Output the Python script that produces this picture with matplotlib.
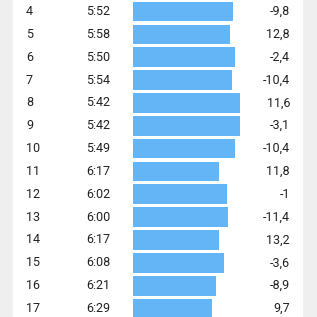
import matplotlib
matplotlib.use("Agg")
import matplotlib.pyplot as plt
import numpy as np

plt.rcParams['font.family'] = ['Roboto', 'DejaVu Sans']

# km splits
km = [4, 5, 6, 7, 8, 9, 10, 11, 12, 13, 14, 15, 16, 17]
pace = ["5:52", "5:58", "5:50", "5:54", "5:42", "5:42", "5:49",
        "6:17", "6:02", "6:00", "6:17", "6:08", "6:21", "6:29"]
elev = [-9.8, 12.8, -2.4, -10.4, 11.6, -3.1, -10.4,
        11.8, -1, -11.4, 13.2, -3.6, -8.9, 9.7]

secs = np.array([int(p.split(":")[0]) * 60 + int(p.split(":")[1]) for p in pace])
speed = 3600.0 / secs  # km/h

W = 317
fig = plt.figure(figsize=(W / 100, W / 100), dpi=100, facecolor="#efefef")

ylim = (17.37, 3.497)

ax = fig.add_axes([0, 0, 1, 1])
ax.set_xlim(0, W)
ax.set_ylim(*ylim)
ax.axis("off")
ax.axvspan(13, 302, color="white", zorder=0)

txt = "#212121"
for k, p, e in zip(km, pace, elev):
    ax.text(26, k, str(k), ha="left", va="center", fontsize=9, color=txt)
    ax.text(86, k, p, ha="left", va="center", fontsize=9, color=txt)
    ax.text(290, k, f"{e:g}".replace(".", ","), ha="right", va="center",
            fontsize=9, color=txt)

# bars
bx = fig.add_axes([133 / W, 0, 170 / W, 1])
bx.patch.set_alpha(0)
bx.barh(km, speed, height=0.86, color="#64b5f6")
bx.set_xlim(5.64, 5.64 + 170 / 21.9)
bx.set_ylim(*ylim)
bx.axis("off")

fig.savefig("out.png", dpi=100, facecolor=fig.get_facecolor())
